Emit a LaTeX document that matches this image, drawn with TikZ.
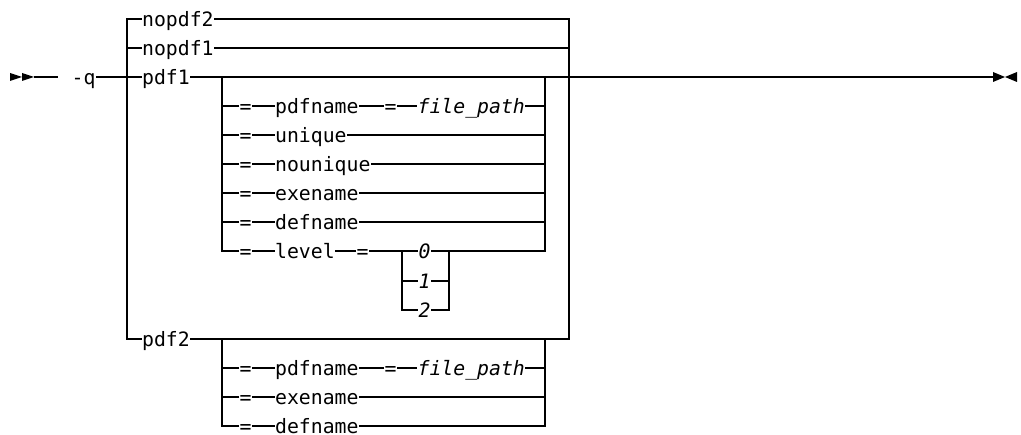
\documentclass[tikz,border=0pt]{standalone}
\usepackage{fontspec}
\setmonofont{DejaVu Sans Mono}
\begin{document}
\begin{tikzpicture}[x=1pt,y=-1pt, line width=1.2pt,
  lbl/.style={anchor=west, inner sep=0pt, text height=15pt, text depth=0pt,
    font=\fontsize{19.8}{20}\selectfont\ttfamily},
  ilbl/.style={lbl, font=\fontsize{19.8}{20}\selectfont\ttfamily\itshape},
  tipmark/.style={fill=black, draw=none}]
\useasboundingbox (0,0) rectangle (1021,435);

% key coordinates
\coordinate (s0) at (34,77);
\coordinate (s1) at (58,77);
\coordinate (A11) at (127,339);
\coordinate (B11) at (569,339);
\coordinate (C2) at (222,77);
\coordinate (D2) at (545,77);
\coordinate (C11) at (222,339);
\coordinate (D11) at (545,339);
\coordinate (Lv) at (402,251);
\coordinate (F0) at (449,251);
\coordinate (E0) at (993,77);

% labels: main
\node[lbl] (q) at (71,77) {-q};
\node[lbl] (nopdf2) at (141.5,19) {nopdf2};
\node[lbl] (nopdf1) at (141.5,48) {nopdf1};
\node[lbl] (pdf1) at (141.5,77) {pdf1};
\node[lbl] (pdf2) at (141.5,339) {pdf2};

% pdf1 sub-options
\node[lbl] (e1) at (239,106) {=};
\node[lbl] (pn1) at (274.5,106) {pdfname};
\node[lbl] (e1b) at (384,106) {=};
\node[ilbl] (fp1) at (417,106) {file\_path};
\node[lbl] (e2) at (239,135) {=};
\node[lbl] (uq) at (274.5,135) {unique};
\node[lbl] (e3) at (239,164) {=};
\node[lbl] (nuq) at (274.5,164) {nounique};
\node[lbl] (e4) at (239,193) {=};
\node[lbl] (ex1) at (274.5,193) {exename};
\node[lbl] (e5) at (239,222) {=};
\node[lbl] (dn1) at (274.5,222) {defname};
\node[lbl] (e6) at (239,251) {=};
\node[lbl] (lvl) at (274.5,251) {level};
\node[lbl] (e6b) at (356,251) {=};
\node[ilbl] (l0) at (418,251) {0};
\node[ilbl] (l1) at (418,281) {1};
\node[ilbl] (l2) at (418,310) {2};

% pdf2 sub-options
\node[lbl] (g1) at (239,368) {=};
\node[lbl] (pn2) at (274.5,368) {pdfname};
\node[lbl] (g1b) at (384,368) {=};
\node[ilbl] (fp2) at (417,368) {file\_path};
\node[lbl] (g2) at (239,397) {=};
\node[lbl] (ex2) at (274.5,397) {exename};
\node[lbl] (g3) at (239,426) {=};
\node[lbl] (dn2) at (274.5,426) {defname};

% start / end markers
\fill[tipmark] (10,73) -- (22,77) -- (10,81) -- cycle;
\fill[tipmark] (22,73) -- (34,77) -- (22,81) -- cycle;
\fill[tipmark] (993,72) -- (1005,77) -- (993,82) -- cycle;
\fill[tipmark] (1017,72) -- (1005,77) -- (1017,82) -- cycle;

% main line
\draw (s0) -- (s1);
\draw (q.east) -- (pdf1.west);
\draw (pdf1.east) -- (E0);

% main choice
\draw (nopdf2.west) -| (A11) -- (pdf2.west);
\draw (nopdf1.west -| A11) -- (nopdf1.west);
\draw (nopdf2.east) -| (B11) -- (pdf2.east);
\draw (nopdf1.east) -- (nopdf1.east -| B11);

% pdf1 sub-choice
\draw (C2) |- (e6.west);
\draw (D2) |- (F0);
\draw (e1.west -| C2) -- (e1.west);
\draw (e1.east) -- (pn1.west);
\draw (pn1.east) -- (e1b.west);
\draw (e1b.east) -- (fp1.west);
\draw (fp1.east) -- (fp1.east -| D2);
\draw (e2.west -| C2) -- (e2.west);
\draw (e2.east) -- (uq.west);
\draw (uq.east) -- (uq.east -| D2);
\draw (e3.west -| C2) -- (e3.west);
\draw (e3.east) -- (nuq.west);
\draw (nuq.east) -- (nuq.east -| D2);
\draw (e4.west -| C2) -- (e4.west);
\draw (e4.east) -- (ex1.west);
\draw (ex1.east) -- (ex1.east -| D2);
\draw (e5.west -| C2) -- (e5.west);
\draw (e5.east) -- (dn1.west);
\draw (dn1.east) -- (dn1.east -| D2);
\draw (e6.east) -- (lvl.west);
\draw (lvl.east) -- (e6b.west);
\draw (e6b.east) -- (Lv);

% level choice
\draw (Lv) -- (l0.west);
\draw (Lv) |- (l2.west);
\draw (l1.west -| Lv) -- (l1.west);
\draw (l0.east) -- (F0);
\draw (l2.east) -| (F0);
\draw (l1.east) -- (l1.east -| F0);

% pdf2 sub-choice
\draw (C11) |- (g3.west);
\draw (D11) |- (dn2.east);
\draw (g1.west -| C11) -- (g1.west);
\draw (g1.east) -- (pn2.west);
\draw (pn2.east) -- (g1b.west);
\draw (g1b.east) -- (fp2.west);
\draw (fp2.east) -- (fp2.east -| D11);
\draw (g2.west -| C11) -- (g2.west);
\draw (g2.east) -- (ex2.west);
\draw (ex2.east) -- (ex2.east -| D11);
\draw (g3.east) -- (dn2.west);
\end{tikzpicture}
\end{document}
